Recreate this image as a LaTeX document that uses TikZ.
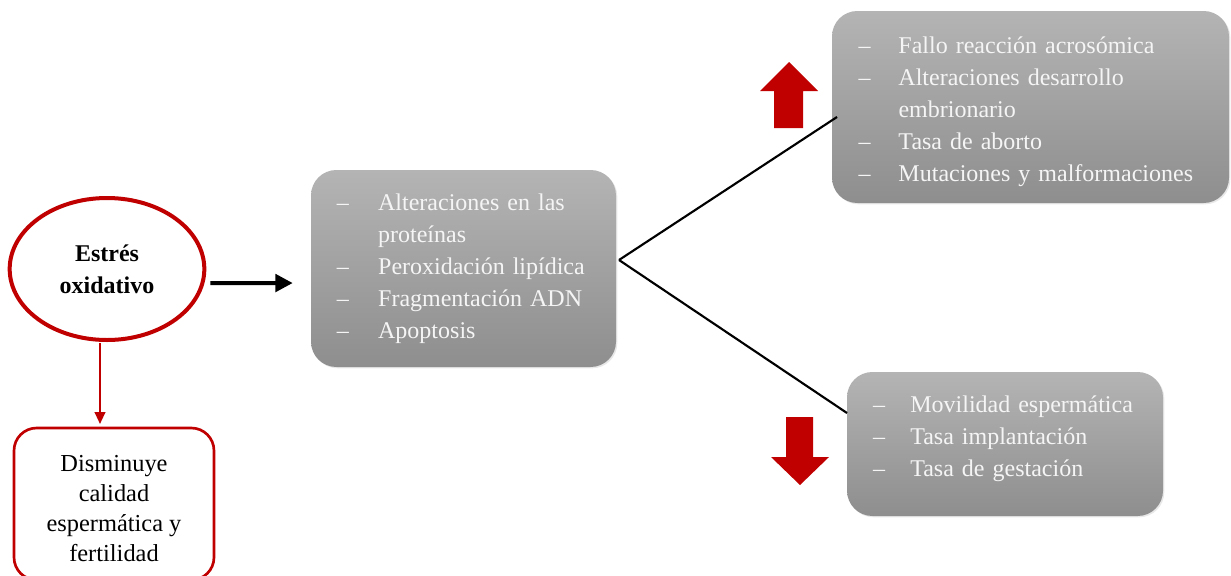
\documentclass[tikz,border=0pt]{standalone}
\usepackage{fontspec}
\setmainfont{Liberation Serif}
\usetikzlibrary{arrows.meta,shadows,shapes.geometric}
\definecolor{dred}{RGB}{192,0,0}
\definecolor{gtop}{RGB}{180,180,180}
\definecolor{gbot}{RGB}{142,142,142}
\definecolor{gtext}{RGB}{245,245,245}
\newcommand{\dsh}[1]{\makebox[#1][l]{--}}
\tikzset{
  graybox/.style={rounded corners=19pt, top color=gtop, bottom color=gbot, draw=none,
    text=gtext, align=left, inner sep=0pt,
    font=\fontsize{18}{24}\selectfont,
    drop shadow={opacity=0.18, shadow xshift=1pt, shadow yshift=-1pt}},
  redbox/.style={draw=dred, line width=2pt, rounded corners=17pt, align=center,
    font=\fontsize{18.3}{22.7}\selectfont, inner sep=0pt},
  oval/.style={ellipse, draw=dred, line width=3pt, align=center,
    font=\bfseries\fontsize{18}{24}\selectfont, inner sep=0pt},
  link/.style={line width=1.6pt},
  redarrow/.style={fill=dred, draw=none}
}
\begin{document}
\begin{tikzpicture}[x=0.75pt,y=-0.75pt]
\useasboundingbox (0,0) rectangle (1231,575);
\clip (0,0) rectangle (1231,575);

% ellipse
\node[oval, minimum width=146pt, minimum height=106.5pt] (ell) at (107,269) {Estrés\\oxidativo};
\coordinate (ellE) at (205,283);
\coordinate (ellS) at (100,343);

% red box
\node[redbox, minimum width=150pt, minimum height=114pt] (red) at (114,504)
  {\rule{0pt}{19pt}Disminuye\\calidad\\espermática y\\fertilidad};

% middle box
\node[graybox, minimum width=228.75pt, minimum height=147.75pt, text width=190pt] (mid) at (463.5,268.5)
  {\dsh{31pt}Alteraciones en las\\\hspace*{31pt}proteínas\\
   \dsh{31pt}Peroxidación lipídica\\
   \dsh{31pt}Fragmentación ADN\\
   \dsh{31pt}Apoptosis};

% top right box
\node[graybox, minimum width=297.75pt, minimum height=144pt, text width=258pt] (top) at (1030.5,107)
  {\rule{0pt}{19.5pt}\dsh{30pt}Fallo reacción acrosómica\\
   \dsh{30pt}Alteraciones desarrollo\\\hspace*{30pt}embrionario\\
   \dsh{30pt}Tasa de aborto\\
   \dsh{30pt}Mutaciones y malformaciones};

% bottom right box
\node[graybox, minimum width=237pt, minimum height=108pt, text width=198pt] (bot) at (1005,444)
  {\dsh{28pt}Movilidad espermática\\
   \dsh{28pt}Tasa implantación\\
   \dsh{28pt}Tasa de gestación\rule[-11.5pt]{0pt}{1pt}};

% connectors
\coordinate (fork) at (619,260);
\coordinate (topend) at (837,117);
\coordinate (botend) at (847,413);
\draw[link] (fork) -- (topend);
\draw[link] (fork) -- (botend);
\draw[line width=3pt, -{Triangle[length=13pt,width=13pt]}]
  ([xshift=4pt]ellE) -- ([xshift=-13.5pt,yshift=-10.9pt]mid.west);
\draw[dred, line width=1.5pt, -{Triangle[length=9pt,width=8pt]}]
  (ellS) -- ([xshift=-10.5pt,yshift=2pt]red.north);

% red block arrows
\fill[redarrow] (774,128) -- (774,91) -- (760,91) -- (789,62) -- (818,91) -- (803,91) -- (803,128) -- cycle;
\fill[redarrow] (786,417) -- (813,417) -- (813,457) -- (829,457) -- (800,485) -- (771,457) -- (786,457) -- cycle;
\end{tikzpicture}
\end{document}
